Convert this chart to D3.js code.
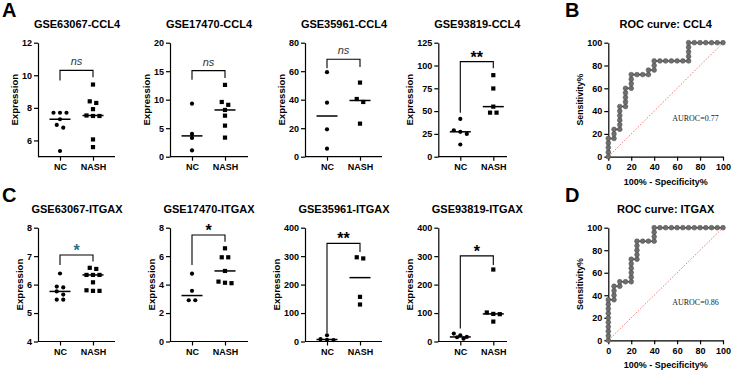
<!DOCTYPE html>
<html>
<head>
<meta charset="utf-8">
<script src="https://cdn.jsdelivr.net/npm/d3@7"></script>
<style>
  body { margin: 0; background: #fff; }
  svg { display: block; font-family: Arial, "Liberation Sans", sans-serif; }
  .axis path, .axis line { stroke: #000; stroke-width: 1.2; }
  .axis text { font-size: 9px; font-weight: bold; fill: #000; font-family: Arial, "Liberation Sans", sans-serif; }
</style>
</head>
<body>
<svg id="chart" width="733" height="372"></svg>
<script>
var groups = ["NC", "NASH"];

var dotTitles = ["GSE63067-CCL4", "GSE17470-CCL4", "GSE35961-CCL4", "GSE93819-CCL4",
                 "GSE63067-ITGAX", "GSE17470-ITGAX", "GSE35961-ITGAX", "GSE93819-ITGAX"];

var ncValues = [
  [7.7, 7.7, 7.7, 7.3, 6.95, 6.78, 5.35],
  [9.3, 4.0, 3.3, 1.1],
  [59.3, 37.9, 19.2, 5.6],
  [41.4, 29, 27.3, 25, 13.4],
  [6.39, 5.93, 5.9, 5.76, 5.65, 5.47, 5.47],
  [4.77, 3.56, 2.9, 2.9],
  [22, 8, 6, 5],
  [28, 22, 16, 15, 10]
];
var nashValues = [
  [9.43, 8.4, 8.3, 7.92, 7.53, 7.5, 7.5, 6.06, 5.59],
  [12.6, 9.6, 9.1, 8.2, 7.2, 5.45, 3.35],
  [52, 40.5, 38.4, 23.2],
  [89.4, 74.8, 54.9, 48.3, 48.3],
  [6.59, 6.55, 6.34, 6.34, 6.34, 6.08, 5.8, 5.78, 5.78],
  [6.55, 5.92, 5.92, 4.96, 4.21, 4.13, 4.1],
  [296, 292, 157, 130],
  [253, 102, 97, 96, 70]
];
var yMin = [5, 0, 0, 0, 4, 0, 0, 0];
var yTicks = [
  [6, 8, 10, 12], [0, 5, 10, 15, 20], [0, 20, 40, 60, 80], [0, 25, 50, 75, 100, 125],
  [4, 5, 6, 7, 8], [0, 2, 4, 6, 8], [0, 100, 200, 300, 400], [0, 100, 200, 300, 400]
];

var sigLabels = ["ns", "ns", "ns", "**", "*", "*", "**", "*"];
var bracketTop = [10.3, 15.1, 68.4, 104.3, 7.04, 7.49, 345, 301];
var bracketNC = [9.68, 13.5, 62, 48.3, 6.69, 5.38, 29, 46];
var bracketNASH = [9.88, 13.8, 63, 97, 6.81, 7.02, 315, 269];

var rocTitles = ["ROC curve: CCL4", "ROC curve: ITGAX"];
var aurocLabels = ["AUROC=0.77", "AUROC=0.86"];
var rocTicks = [0, 20, 40, 60, 80, 100];
var rocCCL4 = [
  [0,0],[0,4],[0,8],[0,12],[0,16],[5,16],[5,20],[5,24],
  [10,24],[10,28],[10,32],[10,36],[10,40],[10,44],
  [15,44],[15,48],[15,52],[15,56],[15,60],
  [20,60],[20,64],[20,68],[20,72],[25,72],[30,72],[35,72],[35,76],
  [40,76],[40,80],[40,84],[45,84],[50,84],[55,84],[60,84],[65,84],
  [70,84],[70,88],[70,92],[70,96],[70,100],
  [75,100],[80,100],[85,100],[90,100],[95,100],[100,100]
];
var rocITGAX = [
  [0,0],[0,4],[0,8],[0,12],[0,16],[0,20],[0,24],[0,28],[0,32],[0,36],
  [5,36],[5,40],[5,44],[5,48],[10,48],[10,52],[15,52],
  [20,52],[20,56],[20,60],[20,64],[20,68],[20,72],
  [25,72],[25,76],[25,80],[25,84],[25,88],[30,88],[35,88],
  [40,88],[40,92],[40,96],[40,100],
  [45,100],[50,100],[55,100],[60,100],[65,100],[70,100],[75,100],[80,100],[85,100],[90,100],[95,100],[100,100]
];
var rocData = [rocCCL4, rocITGAX];

var svg = d3.select("#chart");

var rowTop = [42.7, 227.7],
    rowBottom = [156.7, 341.5],
    colX0 = [38, 170, 305, 438.3],
    colX1 = [115, 248, 382, 507],
    rocX0 = 608.3,
    rocX1 = 723,
    rocBottom = [156.7, 340.3];

// spread points with nearly equal values sideways, like a prism scatter
function swarm(values, y) {
  var order = d3.range(values.length).sort(function(a, b){ return values[b] - values[a]; });
  var offsets = new Array(values.length);
  var rows = [], row = [];
  order.forEach(function(k){
    var last = row[row.length - 1];
    if (row.length && row.length < 3 && Math.abs(y(values[k]) - y(values[last])) < 3.5) row.push(k);
    else { if (row.length) rows.push(row); row = [k]; }
  });
  rows.push(row);
  rows.forEach(function(r){
    r.forEach(function(k, i){ offsets[k] = (i - (r.length - 1) / 2) * 6.5; });
  });
  return offsets;
}

function yLabel(g, axisG, axisX, text, size, cy) {
  var bb = axisG.node().getBBox();
  g.append("text")
    .attr("transform", "translate(" + (axisX + bb.x - 7.5) + "," + cy + ") rotate(-90)")
    .attr("text-anchor", "middle")
    .attr("dy", "0.35em")
    .style("font-size", size + "px")
    .style("font-weight", "bold")
    .text(text);
}

function plain(d) { return d; }

function drawDotPanel(i) {
  var row = i < 4 ? 0 : 1, col = i % 4;
  var x0 = colX0[col], x1 = colX1[col], top = rowTop[row], bottom = rowBottom[row];
  var ticks = yTicks[i];
  var y = d3.scaleLinear().domain([yMin[i], ticks[ticks.length - 1]]).range([bottom, top]);
  var x = d3.scalePoint().domain(groups).range([x0 + 22, x0 + 55]);
  var g = svg.append("g");

  var yAxisG = g.append("g").attr("class", "axis")
    .attr("transform", "translate(" + x0 + ",0)")
    .call(d3.axisLeft(y).tickValues(ticks).tickFormat(plain)
      .tickSize(4).tickSizeOuter(0).tickPadding(2));

  var xAxisG = g.append("g").attr("class", "axis")
    .attr("transform", "translate(0," + bottom + ")")
    .call(d3.axisBottom(x).tickSize(4).tickSizeOuter(0).tickPadding(3));
  xAxisG.select(".domain").attr("d", "M" + x0 + ",0H" + x1);

  var ncOff = swarm(ncValues[i], y), nashOff = swarm(nashValues[i], y);

  g.selectAll(".nc").data(ncValues[i]).enter().append("circle")
    .attr("cx", function(d, k){ return x("NC") + ncOff[k]; })
    .attr("cy", function(d){ return y(d); })
    .attr("r", 2.1)
    .attr("fill", "#000");

  g.selectAll(".nash").data(nashValues[i]).enter().append("rect")
    .attr("x", function(d, k){ return x("NASH") + nashOff[k] - 2.1; })
    .attr("y", function(d){ return y(d) - 2.1; })
    .attr("width", 4.2)
    .attr("height", 4.2)
    .attr("fill", "#000");

  [["NC", ncValues[i]], ["NASH", nashValues[i]]].forEach(function(p){
    var m = d3.median(p[1]);
    g.append("line")
      .attr("x1", x(p[0]) - 10.5).attr("x2", x(p[0]) + 10.5)
      .attr("y1", y(m)).attr("y2", y(m))
      .attr("stroke", "#000").attr("stroke-width", 1.5);
  });

  g.append("path")
    .attr("d", "M" + x("NC") + "," + y(bracketNC[i]) + "V" + y(bracketTop[i]) +
               "H" + x("NASH") + "V" + y(bracketNASH[i]))
    .attr("fill", "none").attr("stroke", "#000").attr("stroke-width", 1.1);

  var lab = sigLabels[i], cx = (x("NC") + x("NASH")) / 2;
  if (lab === "ns") {
    g.append("text").attr("x", cx).attr("y", y(bracketTop[i]) - 5)
      .attr("text-anchor", "middle")
      .style("font-size", "11px").style("font-style", "italic").style("fill", "#333")
      .text(lab);
  } else {
    g.append("text").attr("x", cx).attr("y", y(bracketTop[i]) + 1)
      .attr("text-anchor", "middle")
      .style("font-size", "16px").style("font-weight", "bold")
      .style("fill", i === 4 ? "#2f6f86" : "#000")
      .text(lab);
  }

  g.append("text").attr("x", x0 + 39).attr("y", top - 18.7)
    .attr("text-anchor", "middle").attr("dy", "0.35em")
    .style("font-size", "11px").style("font-weight", "bold")
    .text(dotTitles[i]);

  yLabel(g, yAxisG, x0, "Expression", 9.6, (top + bottom) / 2);
}

function drawRoc(j) {
  var top = rowTop[j], bottom = rocBottom[j];
  var x = d3.scaleLinear().domain([0, 100]).range([rocX0, rocX1]);
  var y = d3.scaleLinear().domain([0, 100]).range([bottom, top]);
  var g = svg.append("g");

  var yAxisG = g.append("g").attr("class", "axis")
    .attr("transform", "translate(" + rocX0 + ",0)")
    .call(d3.axisLeft(y).tickValues(rocTicks).tickSize(4).tickSizeOuter(0).tickPadding(2));
  g.append("g").attr("class", "axis")
    .attr("transform", "translate(0," + bottom + ")")
    .call(d3.axisBottom(x).tickValues(rocTicks).tickSize(4).tickSizeOuter(0).tickPadding(3));

  g.append("line")
    .attr("x1", x(0)).attr("y1", y(0)).attr("x2", x(100)).attr("y2", y(100))
    .attr("stroke", "#ee6b6b").attr("stroke-width", 0.9).attr("stroke-dasharray", "1.6,1.6");

  var line = d3.line()
    .x(function(d){ return x(d[0]); })
    .y(function(d){ return y(d[1]); });
  g.append("path").datum(rocData[j])
    .attr("d", line)
    .attr("fill", "none").attr("stroke", "#444").attr("stroke-width", 1.6);
  g.selectAll(".pt").data(rocData[j]).enter().append("circle")
    .attr("cx", function(d){ return x(d[0]); })
    .attr("cy", function(d){ return y(d[1]); })
    .attr("r", 2.4)
    .attr("fill", "#6e6e6e").attr("stroke", "#4a4a4a").attr("stroke-width", 0.5);

  g.append("text").attr("x", x(76)).attr("y", y(34))
    .attr("text-anchor", "middle").attr("dy", "0.35em")
    .style("font-family", "'Liberation Serif', 'Times New Roman', serif")
    .style("font-size", "8px").style("fill", "#222")
    .text(aurocLabels[j]);

  g.append("text").attr("x", (rocX0 + rocX1) / 2).attr("y", top - 18.7)
    .attr("text-anchor", "middle").attr("dy", "0.35em")
    .style("font-size", "11px").style("font-weight", "bold")
    .text(rocTitles[j]);

  g.append("text").attr("x", (rocX0 + rocX1) / 2).attr("y", bottom + 25)
    .attr("text-anchor", "middle").attr("dy", "0.35em")
    .style("font-size", "9px").style("font-weight", "bold")
    .text("100% - Specificity%");

  yLabel(g, yAxisG, rocX0, "Sensitivity%", 8.8, (top + bottom) / 2);
}

d3.range(8).forEach(drawDotPanel);
d3.range(2).forEach(drawRoc);

var letters = [["A", 2, 17], ["B", 565, 17], ["C", 2, 202], ["D", 565, 202]];
svg.selectAll(".letter").data(letters).enter().append("text")
  .attr("x", function(d){ return d[1]; })
  .attr("y", function(d){ return d[2]; })
  .style("font-size", "20px").style("font-weight", "bold")
  .text(function(d){ return d[0]; });
</script>
</body>
</html>
